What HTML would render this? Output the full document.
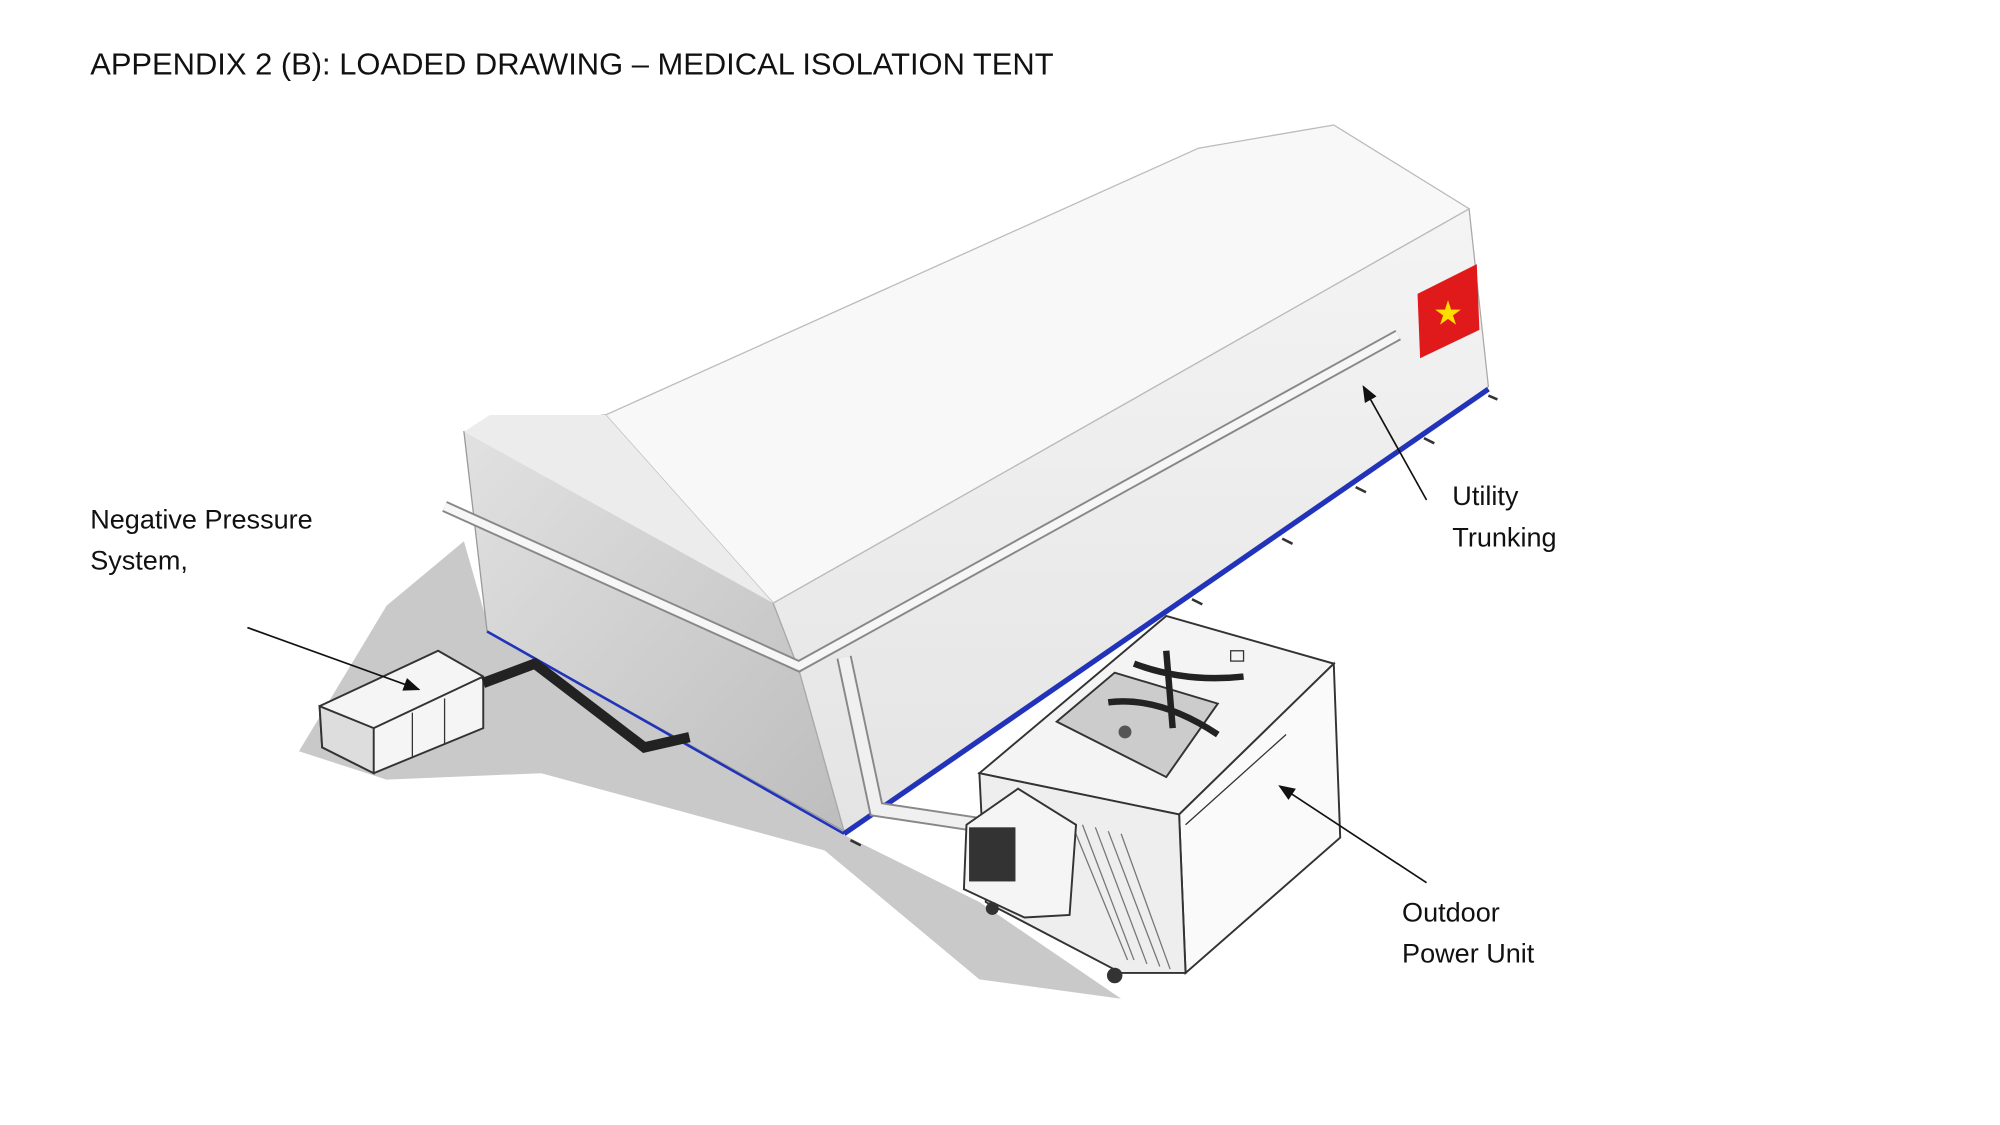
<!DOCTYPE html>
<html><head><meta charset="utf-8"><style>
html,body{margin:0;padding:0;background:#fff;width:2000px;height:1125px;overflow:hidden}
svg{display:block}
text{font-family:"Liberation Sans",sans-serif;fill:#111}
</style></head><body>
<svg width="2000" height="1125" viewBox="0 0 1552 873" xmlns="http://www.w3.org/2000/svg">
<defs>
<linearGradient id="endg" x1="0" y1="0" x2="1" y2="1">
<stop offset="0" stop-color="#e2e2e2"/><stop offset="1" stop-color="#bdbdbd"/></linearGradient>
<linearGradient id="wallg" x1="0" y1="0" x2="0" y2="1">
<stop offset="0" stop-color="#f4f4f4"/><stop offset="1" stop-color="#e4e4e4"/></linearGradient>
<marker id="ah" markerWidth="10" markerHeight="8" refX="9" refY="4" orient="auto"><path d="M0,0 L10,4 L0,8 z" fill="#111"/></marker>
</defs>
<text x="70" y="58" font-size="24">APPENDIX 2 (B): LOADED DRAWING – MEDICAL ISOLATION TENT</text>

<!-- ground shadow -->
<polygon points="232,583 300,470 360,420 380,490 655,648 760,700 870,775 760,760 640,660 420,600 300,605" fill="#c9c9c9"/>

<!-- left end face -->
<polygon points="360,335 470,322 600,468 620,520 655,645 378,490" fill="url(#endg)" stroke="#999" stroke-width="1"/>
<!-- front long wall -->
<polygon points="600,468 1140,162 1155,300 655,645 620,520" fill="url(#wallg)" stroke="#aaa" stroke-width="1"/>
<!-- roof -->
<polygon points="470,322 930,115 1035,97 1140,162 600,468" fill="#f8f8f8" stroke="#bbb" stroke-width="1"/>
<polygon points="360,335 380,322 470,322 600,468 610,480 600,468" fill="#ececec"/>

<!-- blue base -->
<line x1="655" y1="647" x2="1155" y2="302" stroke="#2233bb" stroke-width="4"/>
<line x1="378" y1="490" x2="655" y2="647" stroke="#2233bb" stroke-width="2"/>
<g stroke="#333" stroke-width="2">
<line x1="1155" y1="307" x2="1162" y2="310"/><line x1="1105" y1="340" x2="1113" y2="344"/>
<line x1="1052" y1="378" x2="1060" y2="382"/><line x1="995" y1="418" x2="1003" y2="422"/>
<line x1="925" y1="465" x2="933" y2="469"/><line x1="660" y1="652" x2="668" y2="656"/>
</g>

<!-- flag -->
<polygon points="1100,228 1146,205 1148,256 1102,278" fill="#e01a1a"/>
<text x="1112" y="252" font-size="26" style="fill:#ffdd00">★</text>

<!-- trunking -->
<polyline points="345,393 620,517 1085,260" fill="none" stroke="#888" stroke-width="9"/>
<polyline points="345,393 620,517 1085,260" fill="none" stroke="#f6f6f6" stroke-width="6"/>
<polyline points="655,510 680,628 760,640" fill="none" stroke="#888" stroke-width="12"/>
<polyline points="655,510 680,628 760,640" fill="none" stroke="#f0f0f0" stroke-width="9"/>

<!-- power unit -->
<polygon points="760,600 905,478 1035,515 915,632" fill="#f4f4f4" stroke="#333" stroke-width="1.5"/>
<polygon points="915,632 1035,515 1040,650 920,755" fill="#fafafa" stroke="#333" stroke-width="1.5"/>
<polygon points="760,600 915,632 920,755 870,755 765,700" fill="#eee" stroke="#333" stroke-width="1.5"/>
<g stroke="#777" stroke-width="1">
<line x1="832" y1="640" x2="875" y2="745"/><line x1="840" y1="640" x2="880" y2="745"/>
<line x1="850" y1="642" x2="890" y2="748"/><line x1="860" y1="645" x2="900" y2="750"/>
<line x1="870" y1="647" x2="908" y2="752"/>
</g>
<polygon points="820,560 865,522 945,546 905,603" fill="#ccc" stroke="#333" stroke-width="1.5"/>
<path d="M880,515 Q920,530 965,525 M860,545 Q900,540 945,570 M905,505 L910,565" stroke="#222" stroke-width="5" fill="none"/>
<rect x="955" y="505" width="10" height="8" fill="none" stroke="#333"/>
<circle cx="873" cy="568" r="5" fill="#555"/>
<polygon points="750,640 790,612 835,640 830,710 795,712 748,690" fill="#f5f5f5" stroke="#333" stroke-width="1.5"/>
<rect x="752" y="642" width="36" height="42" fill="#333"/>
<circle cx="865" cy="757" r="6" fill="#333"/>
<circle cx="770" cy="705" r="5" fill="#333"/>
<line x1="920" y1="640" x2="998" y2="570" stroke="#333"/>

<!-- negative pressure unit -->
<polygon points="248,548 340,505 375,525 375,565 290,600 250,580" fill="#f5f5f5" stroke="#333" stroke-width="1.5"/>
<polygon points="248,548 290,565 290,600 250,580" fill="#ddd" stroke="#333" stroke-width="1.5"/>
<line x1="290" y1="565" x2="375" y2="525" stroke="#333" stroke-width="1.5"/>
<line x1="320" y1="553" x2="320" y2="588" stroke="#333"/><line x1="345" y1="542" x2="345" y2="578" stroke="#333"/>
<polyline points="375,530 415,515 500,580 535,572" fill="none" stroke="#222" stroke-width="8"/>

<!-- labels & arrows -->
<text x="70" y="410" font-size="21">Negative Pressure</text>
<text x="70" y="442" font-size="21">System,</text>
<line x1="192" y1="487" x2="325" y2="535" stroke="#111" stroke-width="1.3" marker-end="url(#ah)"/>
<text x="1127" y="392" font-size="21">Utility</text>
<text x="1127" y="424" font-size="21">Trunking</text>
<line x1="1107" y1="388" x2="1058" y2="300" stroke="#111" stroke-width="1.3" marker-end="url(#ah)"/>
<text x="1088" y="715" font-size="21">Outdoor</text>
<text x="1088" y="747" font-size="21">Power Unit</text>
<line x1="1107" y1="685" x2="993" y2="610" stroke="#111" stroke-width="1.3" marker-end="url(#ah)"/>
</svg>
</body></html>
